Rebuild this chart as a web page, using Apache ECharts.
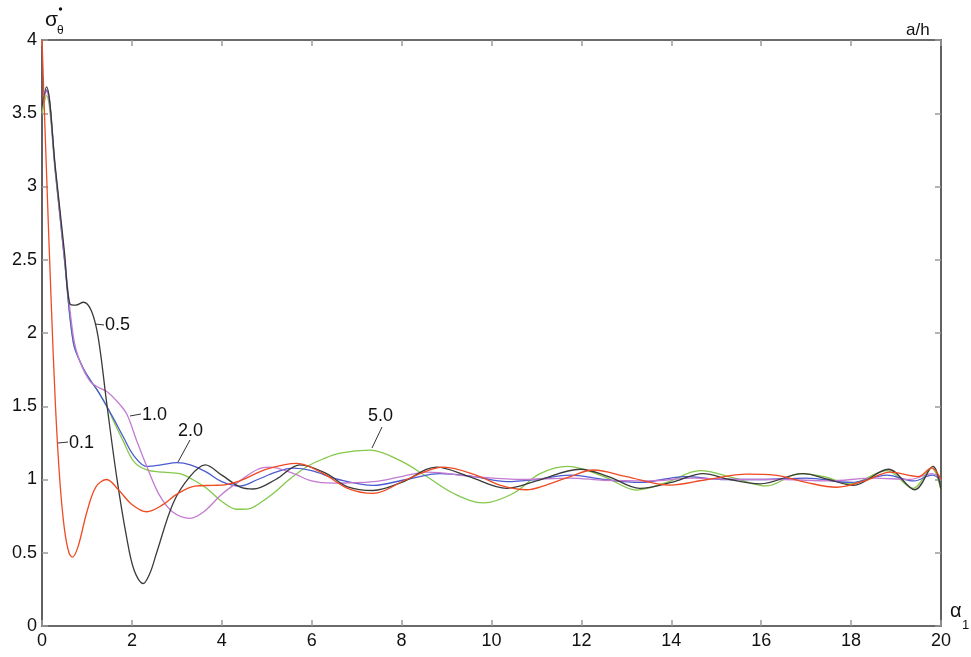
<!DOCTYPE html>
<html>
<head>
<meta charset="utf-8">
<script src="https://cdn.jsdelivr.net/npm/echarts@6/dist/echarts.min.js"></script>
<style>
html,body{margin:0;padding:0;background:#fff;}
#chart{width:971px;height:657px;}
</style>
</head>
<body>
<div id="chart"></div>
<script>
// a/h = 0.1
var curve01 = [[0,4.0],[0.1,3.1],[0.2,2.25],[0.3,1.5],[0.4,0.98],[0.5,0.66],[0.6,0.5],[0.675,0.47],[0.8,0.54],[1.0,0.78],[1.2,0.95],[1.44,1.0],[1.7,0.93],[2.0,0.83],[2.33,0.78],[2.7,0.83],[3.0,0.9],[3.4,0.955],[3.8,0.96],[4.1,0.965],[4.4,0.99],[5.0,1.07],[5.67,1.11],[6.26,1.04],[6.8,0.94],[7.37,0.905],[8.11,1.0],[8.93,1.085],[9.74,1.02],[10.2,0.96],[10.78,0.93],[11.2,0.96],[11.75,1.02],[12.27,1.065],[13.0,1.02],[13.97,0.962],[14.8,1.0],[15.68,1.037],[16.3,1.03],[17.0,0.98],[17.68,0.947],[18.3,0.99],[18.87,1.05],[19.5,1.02],[19.79,1.08],[20,1.0]];
// a/h = 0.5
var curve05 = [[0,3.55],[0.1,3.68],[0.3,3.12],[0.5,2.55],[0.62,2.2],[0.75,2.19],[0.92,2.21],[1.1,2.15],[1.25,1.97],[1.44,1.52],[1.66,1.02],[1.88,0.61],[2.05,0.38],[2.25,0.29],[2.4,0.36],[2.55,0.5],[2.92,0.84],[3.29,1.02],[3.63,1.1],[4.0,1.03],[4.4,0.95],[4.7,0.935],[5.2,1.0],[5.74,1.1],[6.33,1.04],[6.8,0.95],[7.37,0.925],[8.0,0.98],[8.78,1.085],[9.5,1.02],[10.34,0.94],[11.0,0.99],[11.97,1.07],[12.6,1.02],[13.3,0.94],[14.0,0.98],[14.71,1.04],[15.3,1.0],[15.97,0.97],[16.93,1.04],[17.5,1.0],[18.05,0.96],[18.83,1.07],[19.42,0.93],[19.82,1.09],[20,0.93]];
// a/h = 1.0
var curve10 = [[0,3.55],[0.1,3.65],[0.3,3.1],[0.5,2.52],[0.7,1.97],[0.85,1.8],[1.07,1.67],[1.25,1.63],[1.44,1.6],[1.65,1.54],[1.88,1.45],[2.1,1.27],[2.33,1.09],[2.6,0.9],[2.9,0.78],[3.29,0.735],[3.6,0.78],[4.0,0.9],[4.4,0.99],[4.8,1.07],[5.07,1.085],[5.6,1.04],[6.0,0.99],[6.48,0.975],[7.37,0.985],[8.0,1.02],[8.56,1.05],[9.6,1.02],[10.7,1.0],[11.75,1.01],[12.5,0.995],[13.5,0.99],[14.5,1.01],[15.5,1.0],[16.5,1.0],[17.5,0.99],[18.5,1.01],[19.3,1.0],[19.8,1.04],[20,1.0]];
// a/h = 2.0
var curve20 = [[0,3.55],[0.1,3.66],[0.3,3.1],[0.5,2.5],[0.7,1.93],[0.9,1.77],[1.07,1.68],[1.25,1.6],[1.44,1.5],[1.62,1.4],[1.81,1.29],[2.05,1.16],[2.33,1.09],[2.65,1.1],[3.0,1.115],[3.3,1.1],[3.66,1.05],[4.0,0.985],[4.4,0.955],[4.8,1.0],[5.2,1.05],[5.59,1.077],[6.0,1.06],[6.6,1.0],[7.37,0.96],[8.1,1.0],[8.85,1.04],[9.6,1.02],[10.34,0.985],[11.0,1.0],[11.75,1.03],[12.5,1.0],[13.3,0.98],[14.3,1.02],[15.2,1.0],[16.0,1.0],[17.0,1.01],[18.0,0.98],[18.8,1.03],[19.4,0.99],[19.8,1.03],[20,1.0]];
// a/h = 5.0
var curve50 = [[0,3.5],[0.1,3.62],[0.3,3.08],[0.5,2.5],[0.7,1.93],[0.9,1.77],[1.07,1.68],[1.25,1.6],[1.44,1.5],[1.62,1.38],[1.81,1.26],[2.05,1.12],[2.33,1.065],[2.7,1.05],[3.07,1.04],[3.35,1.0],[3.66,0.94],[4.0,0.85],[4.33,0.797],[4.6,0.8],[4.85,0.84],[5.15,0.906],[5.5,1.0],[5.89,1.087],[6.25,1.14],[6.63,1.18],[7.3,1.2],[7.96,1.13],[8.56,1.02],[9.15,0.906],[9.82,0.84],[10.49,0.906],[11.08,1.04],[11.7,1.09],[12.5,1.02],[13.23,0.928],[13.9,0.98],[14.64,1.06],[15.4,1.01],[16.12,0.956],[16.86,1.04],[17.4,1.02],[17.98,0.97],[18.79,1.06],[19.38,0.94],[19.79,1.08],[20,0.93]];

var seriesNames = ['0.1','0.5','1.0','2.0','5.0'];
var seriesData = [curve01, curve05, curve10, curve20, curve50];
var seriesColors = ['#f04a22','#3a3a3a','#c47ad0','#4a5ad0','#84c84a'];

var FONT = 'Liberation Sans, Arial, Helvetica, sans-serif';
var chart = echarts.init(document.getElementById('chart'));

function axisCommon(showLabel, margin){
  return {
    axisLine:{show:true, onZero:false, lineStyle:{color:'#3a3a3a', width:1.6}},
    axisTick:{show:true, inside:true, length:6, lineStyle:{color:'#9a9a9a', width:1.5}},
    axisLabel:{show:showLabel, color:'#111', fontSize:18, fontFamily:FONT, margin:margin},
    splitLine:{show:false}
  };
}

var series = seriesData.map(function(d,i){
  return {
    name: seriesNames[i], type:'line', data:d, smooth:0.35, symbol:'none',
    lineStyle:{color:seriesColors[i], width:1.3}, z: 5 - i,
    xAxisIndex:0, yAxisIndex:0
  };
});

var labelStyle = {fontSize:18, fontFamily:FONT, fill:'#111'};
function txt(t,x,y){ return {type:'text', left:x, top:y, style:Object.assign({text:t}, labelStyle)}; }
function seg(x1,y1,x2,y2){ return {type:'line', shape:{x1:x1,y1:y1,x2:x2,y2:y2}, style:{stroke:'#333', lineWidth:1}}; }

chart.setOption({
  animation:false,
  grid:{left:42, right:30, top:40, bottom:31},
  xAxis:[
    Object.assign({type:'value', min:0, max:20, interval:2, position:'bottom'}, axisCommon(true, 6)),
    Object.assign({type:'value', min:0, max:20, interval:2, position:'top'}, axisCommon(false, 6))
  ],
  yAxis:[
    Object.assign({type:'value', min:0, max:4, interval:0.5, position:'left'}, axisCommon(true, 5)),
    Object.assign({type:'value', min:0, max:4, interval:0.5, position:'right'}, axisCommon(false, 5))
  ],
  series: series,
  graphic:[
    seg(95,324,104,325), txt('0.5',105,316),
    seg(130,416,141,414), txt('1.0',142,406),
    seg(58,443,68,442), txt('0.1',69,434),
    seg(190,440,178,462), txt('2.0',178,422),
    seg(382,427,372,448), txt('5.0',368,407),
    {type:'text', left:45, top:10, style:{text:'σ', fontSize:21, fontFamily:FONT, fill:'#111'}},
    {type:'text', left:57, top:25, style:{text:'θ', fontSize:12, fontFamily:FONT, fill:'#111'}},
    {type:'circle', shape:{cx:60.5, cy:9, r:1.7}, style:{fill:'#111'}},
    {type:'text', left:906, top:22, style:{text:'a/h', fontSize:17, fontFamily:FONT, fill:'#111'}},
    {type:'text', left:950, top:601, style:{text:'α', fontSize:20, fontFamily:FONT, fill:'#111'}},
    {type:'text', left:962, top:619, style:{text:'1', fontSize:13, fontFamily:FONT, fill:'#111'}}
  ]
});
</script>
</body>
</html>
